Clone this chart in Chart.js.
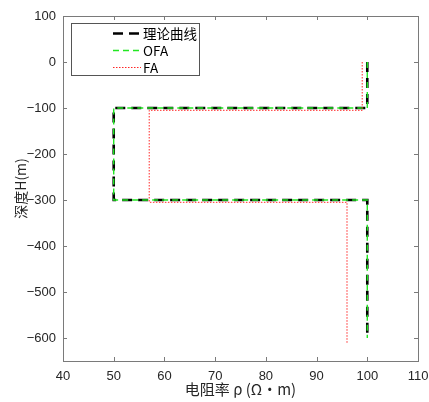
<!DOCTYPE html>
<html>
<head>
<meta charset="utf-8">
<script src="https://cdn.jsdelivr.net/npm/chart.js@4"></script>
<style>
  html,body{margin:0;padding:0;background:#fff;}
  canvas{display:block;}
</style>
</head>
<body>
<canvas id="c" width="429" height="402"></canvas>
<script>
// values
const theoryRho   = [100, 100, 50, 50, 100, 100];
const theoryDepth = [0, -100, -100, -300, -300, -600];
const ofaRho      = [100, 100, 50, 50, 100, 100];
const ofaDepth    = [0, -100, -100, -300, -300, -600];
const faRho       = [99, 99, 57, 57, 96, 96];
const faDepth     = [0, -105, -105, -305, -305, -612];
const rhoTicks    = [40, 50, 60, 70, 80, 90, 100, 110];
const depthTicks  = [100, 0, -100, -200, -300, -400, -500, -600];
const seriesNames = ["理论曲线", "OFA", "FA"];

const pts = (xs, ys) => xs.map((x, i) => ({x: x, y: ys[i]}));
const cjk = '"Noto Sans CJK SC", "Noto Sans", sans-serif';
const lat = '"Liberation Sans", Arial, sans-serif';
const ink = "#262626";

// box round the plot, inward ticks, legend in the upper left
const boxPlugin = {
  id: "box",
  afterDraw(chart){
    const ctx = chart.ctx, a = chart.chartArea;
    const xs = chart.scales.x, ys = chart.scales.y;
    ctx.save();
    ctx.strokeStyle = "#7a7a7a"; ctx.lineWidth = 1;
    ctx.strokeRect(Math.round(a.left)+.5, Math.round(a.top)+.5,
      Math.round(a.right-a.left), Math.round(a.bottom-a.top));
    ctx.beginPath();
    rhoTicks.forEach(v=>{
      const px = Math.round(xs.getPixelForValue(v))+.5;
      ctx.moveTo(px, a.bottom); ctx.lineTo(px, a.bottom-4);
      ctx.moveTo(px, a.top); ctx.lineTo(px, a.top+4);
    });
    depthTicks.forEach(v=>{
      const py = Math.round(ys.getPixelForValue(v))+.5;
      ctx.moveTo(a.left, py); ctx.lineTo(a.left+4, py);
      ctx.moveTo(a.right, py); ctx.lineTo(a.right-4, py);
    });
    ctx.stroke();

    // legend
    const L = {x: 71.5, y: 23.5, w: 128, h: 52};
    ctx.fillStyle = "#fff"; ctx.fillRect(L.x, L.y, L.w, L.h);
    ctx.strokeStyle = "#555"; ctx.strokeRect(L.x, L.y, L.w, L.h);
    const rows = [33, 50, 67];
    chart.data.datasets.forEach((ds, i)=>{
      ctx.beginPath();
      ctx.strokeStyle = ds.borderColor; ctx.lineWidth = ds.borderWidth;
      ctx.setLineDash(ds.borderDash);
      ctx.moveTo(113, rows[i]+.5); ctx.lineTo(141, rows[i]+.5);
      ctx.stroke();
      ctx.setLineDash([]);
      ctx.fillStyle = "#000"; ctx.font = "13.5px " + cjk;
      ctx.textBaseline = "middle"; ctx.textAlign = "left";
      ctx.fillText(ds.label, 143, rows[i]+1);
    });
    ctx.restore();
  }
};

new Chart(document.getElementById("c"), {
  type: "scatter",
  data: {datasets: [
    {label: seriesNames[0], data: pts(theoryRho, theoryDepth), showLine: true,
     borderColor: "#000", borderWidth: 2.6, borderDash: [10, 6], pointRadius: 0, order: 3},
    {label: seriesNames[1], data: pts(ofaRho, ofaDepth), showLine: true,
     borderColor: "#22e622", borderWidth: 1.4, borderDash: [6, 4], pointRadius: 0, order: 2},
    {label: seriesNames[2], data: pts(faRho, faDepth), showLine: true,
     borderColor: "rgba(255,0,0,0.85)", borderWidth: 1, borderDash: [1.5, 1.5], pointRadius: 0, order: 1}
  ]},
  options: {
    responsive: false, animation: false,
    layout: {padding: {left: 0, top: 16, right: 11, bottom: 0}},
    plugins: {legend: {display: false}, tooltip: {enabled: false}},
    scales: {
      x: {type: "linear", min: 40, max: 110,
        afterBuildTicks: s => { s.ticks = rhoTicks.map(v=>({value: v})); },
        afterFit: s => { s.height = 41; s.paddingLeft = 0; s.paddingRight = 11; },
        grid: {display: false, drawTicks: false}, border: {display: false},
        ticks: {font: {family: lat, size: 13}, color: ink, padding: 8, maxRotation: 0, autoSkip: false},
        title: {display: true, text: "电阻率 ρ (Ω・m)", color: ink,
          font: {family: cjk, size: 15}, padding: {top: 0, bottom: 4}}},
      y: {type: "linear", min: -650, max: 100,
        afterBuildTicks: s => { s.ticks = depthTicks.map(v=>({value: v})); },
        afterFit: s => { s.width = 63; },
        grid: {display: false, drawTicks: false}, border: {display: false},
        ticks: {font: {family: lat, size: 13}, color: ink, padding: 7, autoSkip: false,
          callback: v => String(v).replace("-", "\u2212")},
        title: {display: true, text: "深度H(m)", color: ink,
          font: {family: cjk, size: 14}, padding: {top: 12, bottom: 0}}}
    }
  },
  plugins: [boxPlugin]
});
</script>
</body>
</html>
